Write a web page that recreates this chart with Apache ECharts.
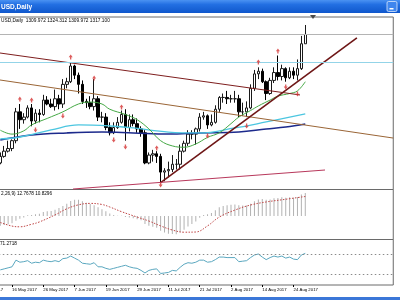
<!DOCTYPE html>
<html><head><meta charset="utf-8">
<script src="https://cdn.jsdelivr.net/npm/echarts@6/dist/echarts.min.js"></script>
<style>html,body{margin:0;padding:0;background:#fff}#c{width:400px;height:300px}</style>
</head><body><div id="c"></div>
<script>
// ---- data ----
const preDates = ['4 May 2017','5 May 2017','8 May 2017','9 May 2017','10 May 2017'];
const dates = ['11 May 2017','12 May 2017','15 May 2017','16 May 2017','17 May 2017','18 May 2017','19 May 2017','22 May 2017','23 May 2017','24 May 2017','25 May 2017','26 May 2017','29 May 2017','30 May 2017','31 May 2017',
'1 Jun 2017','2 Jun 2017','5 Jun 2017','6 Jun 2017','7 Jun 2017','8 Jun 2017','9 Jun 2017','12 Jun 2017','13 Jun 2017','14 Jun 2017','15 Jun 2017','16 Jun 2017','19 Jun 2017','20 Jun 2017','21 Jun 2017','22 Jun 2017','23 Jun 2017','26 Jun 2017','27 Jun 2017','28 Jun 2017','29 Jun 2017','30 Jun 2017',
'3 Jul 2017','4 Jul 2017','5 Jul 2017','6 Jul 2017','7 Jul 2017','10 Jul 2017','11 Jul 2017','12 Jul 2017','13 Jul 2017','14 Jul 2017','17 Jul 2017','18 Jul 2017','19 Jul 2017','20 Jul 2017','21 Jul 2017','24 Jul 2017','25 Jul 2017','26 Jul 2017','27 Jul 2017','28 Jul 2017','31 Jul 2017',
'1 Aug 2017','2 Aug 2017','3 Aug 2017','4 Aug 2017','7 Aug 2017','8 Aug 2017','9 Aug 2017','10 Aug 2017','11 Aug 2017','14 Aug 2017','15 Aug 2017','16 Aug 2017','17 Aug 2017','18 Aug 2017','21 Aug 2017','22 Aug 2017','23 Aug 2017','24 Aug 2017','25 Aug 2017','28 Aug 2017','29 Aug 2017'];
const opens  = [1219,1224,1228,1230,1236,1258,1252,1254,1261,1251,1257,1256,1267,1264,1262,1268,1264,1279,1281,1293,1286,1279,1266,1265,1262,1268,1254,1254,1246,1242,1246,1250,1256,1246,1252,1249,1245,1242,1219,1225,1226,1224,1212,1213,1214,1218,1218,1228,1234,1241,1241,1245,1254,1255,1248,1250,1260,1269,1269,1268,1268,1268,1258,1258,1261,1276,1287,1289,1281,1272,1282,1288,1285,1291,1284,1289,1286,1291,1309.972];
const highs  = [1227,1232,1236,1237,1261,1264,1257,1263,1264,1260,1260,1271,1270,1268,1275,1271,1283,1284,1296,1294,1288,1282,1268,1270,1283,1270,1258,1257,1250,1250,1254,1259,1260,1256,1256,1253,1247,1244,1227,1229,1228,1226,1215,1220,1225,1222,1233,1236,1244,1244,1246,1257,1258,1256,1256,1263,1270,1272,1274,1271,1274,1271,1265,1266,1279,1290,1292,1291,1282,1284,1292,1301,1294,1292,1292,1292,1298,1316,1324.312];
const lows   = [1218,1223,1227,1228,1234,1245,1249,1253,1247,1249,1250,1255,1263,1261,1259,1260,1261,1276,1280,1283,1272,1264,1261,1260,1259,1251,1250,1244,1240,1241,1245,1249,1236,1243,1247,1242,1239,1218,1218,1220,1219,1204,1205,1208,1212,1214,1214,1227,1232,1237,1233,1243,1252,1245,1247,1249,1258,1265,1264,1265,1265,1254,1255,1254,1260,1274,1283,1280,1267,1271,1280,1282,1282,1281,1283,1283,1282,1290,1309.972];
const closes = [1224,1228,1230,1236,1258,1252,1254,1261,1251,1257,1256,1267,1264,1262,1268,1264,1279,1281,1293,1286,1279,1266,1265,1262,1268,1254,1254,1246,1242,1246,1250,1256,1246,1252,1249,1245,1242,1219,1225,1226,1224,1212,1213,1214,1218,1218,1228,1234,1241,1241,1245,1254,1255,1248,1250,1260,1269,1269,1268,1268,1268,1258,1258,1261,1276,1287,1289,1281,1272,1282,1288,1285,1291,1284,1289,1286,1291,1310,1317.1];
const tickLabels = ['4 May 2017','16 May 2017','26 May 2017','7 Jun 2017','19 Jun 2017','29 Jun 2017','11 Jul 2017','21 Jul 2017','2 Aug 2017','14 Aug 2017','24 Aug 2017'];

// moving averages read at sampled bars [bar index, price]
const maFast = [[0,1244],[3,1241],[6,1243.5],[8,1248],[12,1253],[16,1258],[20,1264],[23,1265.5],[26,1264],[28,1260],[32,1256],[35,1252],[38,1245],[41,1236],[44,1232],[47,1231],[50,1233.5],[53,1238.5],[56,1242],[59,1249],[61,1254],[64,1259],[66,1262.5],[69,1267],[71,1270],[74,1272],[76,1274],[78,1281]];
const maMid  = [[0,1237.3],[5,1238.8],[13,1244.2],[20,1248],[28,1247.2],[34,1245.7],[43,1242.6],[51,1241.9],[60,1245.7],[68,1250.3],[78,1256.4]];
const maSlow = [[0,1236.5],[8,1240.3],[17,1241.9],[26,1242.6],[34,1241.9],[43,1241.1],[51,1241.9],[61,1242.6],[68,1244.9],[73,1246.4],[78,1248.7]];

// trend lines [bar index, price]
const trendUpper   = [[-0.5,1303.1],[76.65,1270.9]];
const trendBrown   = [[-0.5,1282.5],[100.5,1238.0]];
const trendSupport = [[41,1204],[91.2,1314.4]];
const trendLow     = [[18.6,1199.1],[83.05,1213.6]];
const levelPrice = 1296.0;
const bidPrice = 1317.1;

const fractalUp   = [[5,1267.8],[8,1267],[18,1299.9],[24,1283.8],[31,1261.7],[40,1230.4],[66,1296.1],[71,1304.5]];
const fractalDown = [[9,1244.2],[16,1254.8],[29,1236.5],[32,1231.2],[41,1202.2],[53,1239.6],[63,1247.2],[73,1277],[76,1271.6]];

const macdMain = [-5.4,-5.0,-4.6,-4.0,-2.6,-1.6,-0.8,0.4,0.6,1.0,1.2,2.2,2.6,2.8,3.4,
 4.4,5.6,6.8,8.4,9.0,9.0,8.2,7.4,6.6,
 6.0,4.8,3.8,2.6,1.4,0.6,0.2,0.2,-0.6,-0.8,-1.2,-1.8,-2.4,
 -4.4,-5.4,-6.0,-6.6,-8.2,-9.2,-9.8,-10.0,-10.2,
 -9.0,-7.6,-5.8,-4.4,-3.0,-1.0,0.6,1.0,1.6,3.2,4.8,5.6,6.0,6.2,6.4,
 6.0,5.8,5.8,6.8,8.2,9.2,9.4,9.0,9.2,9.8,10.0,10.4,10.2,10.4,10.2,10.6,12.0,12.77];
const macdSignal = [[0,-3.6],[3,-5.6],[5,-6.0],[8,-4.6],[10,-3.3],[14,0.6],[17,4.0],[20,6.2],[23,7.0],[26,6.4],[28,5.0],[31,2.4],[35,-0.6],[38,-2.8],[41,-5.5],[44,-7.8],[47,-9.0],[50,-8.9],[53,-5.5],[56,-0.6],[60,3.3],[64,6.1],[68,7.8],[72,9.0],[78,10.83]];

const rsiValues = [39,41,43,45,58,54,55,57,52,54,
 53,58,56,55,57,55,61,62,66,62,
 58,52,51,50,53,45,45,42,40,42,
 44,46,48,45,43,42,38,33,38,40,
 41,32,33,34,38,37,44,50,53,52,
 54,58,58,54,55,59,64,64,63,63,
 63,55,56,57,63,68,70,64,59,63,
 66,64,66,62,64,60,59,68,71.27];
const rsiLevels = [70, 30];

// ---- layout ----
const N_PRE = preDates.length, N_FUT = 22;
const cats = preDates.concat(dates);
for (let i = 0; i < N_FUT; i++) cats.push('f' + i);
const NC = cats.length;
const band = 3.91;
const gridLeft = 0.3 - (N_PRE + 0.5) * band;
const gridW = NC * band;
const FONT = '"Liberation Sans", Arial, sans-serif';

const showTick = (i, v) => tickLabels.indexOf(v) >= 0;
const gBase = {left: gridLeft, width: gridW, show: true, borderColor: '#6a6a6a', borderWidth: 1, backgroundColor: '#fff', containLabel: false, outerBoundsMode: 'none'};
const hidCat = gi => ({type: 'category', gridIndex: gi, data: cats, boundaryGap: true, show: false});
const hidVal = gi => ({type: 'value', gridIndex: gi, min: -N_PRE - 0.5, max: NC - N_PRE - 0.5, show: false});

const candleRows = dates.map((d, i) => [i + N_PRE, opens[i], closes[i], lows[i], highs[i]]);
const lineS = (data, color, width, extra) => Object.assign({type: 'line', xAxisIndex: 1, yAxisIndex: 0, data, symbol: 'none', silent: true, lineStyle: {color, width}, z: 4}, extra || {});

const upPath = 'path://M3,0L6,4L4,4L4,7L2,7L2,4L0,4Z';
const dnPath = 'path://M2,0L4,0L4,3L6,3L3,7L0,3L2,3Z';

const option = {
  animation: false,
  backgroundColor: '#fff',
  grid: [
    Object.assign({top: 17, height: 172.5}, gBase),
    Object.assign({top: 189.5, height: 50}, gBase),
    Object.assign({top: 239.5, height: 45.5}, gBase)
  ],
  xAxis: [
    hidCat(0), hidVal(0), hidCat(1), hidVal(1),
    {type: 'category', gridIndex: 2, data: cats, boundaryGap: true,
     axisLine: {show: false}, splitLine: {show: false},
     axisTick: {show: true, interval: showTick, alignWithLabel: true, length: 2, lineStyle: {color: '#000', width: 1}},
     axisLabel: {interval: showTick, fontSize: 4.3, color: '#000', align: 'left', margin: 3, fontFamily: FONT, hideOverlap: false}}
  ],
  yAxis: [
    {type: 'value', gridIndex: 0, min: 1198.73, max: 1330.41, show: false},
    {type: 'value', gridIndex: 1, min: -13.06, max: 14.72, show: false},
    {type: 'value', gridIndex: 2, min: 9.51, max: 98.29, show: false}
  ],
  series: [
    {type: 'candlestick', xAxisIndex: 0, yAxisIndex: 0, data: candleRows,
     encode: {x: 0, y: [1, 2, 3, 4]}, barWidth: 3, silent: true, z: 3,
     itemStyle: {color: '#ffffff', color0: '#000000', borderColor: '#1a1a1a', borderColor0: '#000000', borderWidth: 1},
     markLine: {symbol: 'none', silent: true, label: {show: false},
       data: [{yAxis: bidPrice, lineStyle: {color: '#b4b4b4', type: 'solid', width: 1}},
              {yAxis: levelPrice, lineStyle: {color: '#93d4e8', type: 'solid', width: 1}}]}},
    lineS(maSlow, '#1c2a8c', 1.6, {smooth: 0.4}),
    lineS(maMid, '#4cc6e0', 1.3, {smooth: 0.4}),
    lineS(maFast, '#45a845', 1, {smooth: 0.4}),
    lineS(trendUpper, '#7e1e1e', 1),
    lineS(trendBrown, '#9a6536', 1),
    lineS(trendSupport, '#6e1616', 1.6),
    lineS(trendLow, '#b8395c', 1.2),
    {type: 'scatter', xAxisIndex: 1, yAxisIndex: 0, data: fractalUp, symbol: upPath, symbolSize: [4, 5], itemStyle: {color: '#d43333'}, silent: true, z: 5},
    {type: 'scatter', xAxisIndex: 1, yAxisIndex: 0, data: fractalDown, symbol: dnPath, symbolSize: [4, 5], itemStyle: {color: '#d43333'}, silent: true, z: 5},
    {type: 'bar', xAxisIndex: 2, yAxisIndex: 1, data: macdMain.map((v, i) => [i + N_PRE, v]), barWidth: 1, itemStyle: {color: '#b2b2b2'}, silent: true},
    {type: 'line', xAxisIndex: 3, yAxisIndex: 1, data: macdSignal, symbol: 'none', smooth: 0.4, silent: true, lineStyle: {color: '#c04646', width: 1, type: [1.5, 1.5]}, z: 4},
    {type: 'line', xAxisIndex: 4, yAxisIndex: 2, data: rsiValues.map((v, i) => [i + N_PRE, v]), symbol: 'none', silent: true, lineStyle: {color: '#5aa7bf', width: 1},
     markLine: {symbol: 'none', silent: true, label: {show: false}, lineStyle: {color: '#8a8a8a', type: [1.5, 2.5], width: 1},
       data: rsiLevels.map(v => ({yAxis: v}))}}
  ],
  graphic: [
    {type: 'rect', z: 100, shape: {x: 0, y: 0, width: 400, height: 13},
     style: {fill: new echarts.graphic.LinearGradient(0, 0, 0, 1, [{offset: 0, color: '#4a92f2'}, {offset: 0.35, color: '#226fe2'}, {offset: 1, color: '#0f57cc'}])}},
    {type: 'rect', z: 101, shape: {x: 387, y: 1.5, width: 10, height: 10, r: 1.5}, style: {fill: '#3f86ee', stroke: '#dce8fb', lineWidth: 0.8}},
    {type: 'rect', z: 102, shape: {x: 389.5, y: 8, width: 4, height: 1.5}, style: {fill: '#ffffff'}},
    {type: 'text', z: 101, x: 1, y: 7, style: {text: 'USD,Daily', fill: '#ffffff', font: 'bold 6.5px ' + FONT, textVerticalAlign: 'middle', verticalAlign: 'middle'}},
    {type: 'text', z: 101, x: 1, y: 20.5, style: {text: 'USD,Daily  1309.972 1324.312 1309.972 1317.100', fill: '#000', font: '4.8px ' + FONT, textVerticalAlign: 'middle', verticalAlign: 'middle'}},
    {type: 'text', z: 101, x: 1, y: 193.5, style: {text: '2,26,9) 12.7678 10.8296', fill: '#000', font: '4.7px ' + FONT, textVerticalAlign: 'middle', verticalAlign: 'middle'}},
    {type: 'text', z: 101, x: 0, y: 243.5, style: {text: '71.2718', fill: '#000', font: '4.7px ' + FONT, textVerticalAlign: 'middle', verticalAlign: 'middle'}},
    {type: 'polygon', z: 101, shape: {points: [[310, 15], [316, 15], [313, 19]]}, style: {fill: '#4a4a4a'}},
    {type: 'rect', z: 100, shape: {x: 0, y: 297, width: 400, height: 3}, style: {fill: '#3b77d8'}}
  ]
};
const chart = echarts.init(document.getElementById('c'), null, {renderer: 'canvas', width: 400, height: 300});
chart.setOption(option);
</script>
</body></html>
